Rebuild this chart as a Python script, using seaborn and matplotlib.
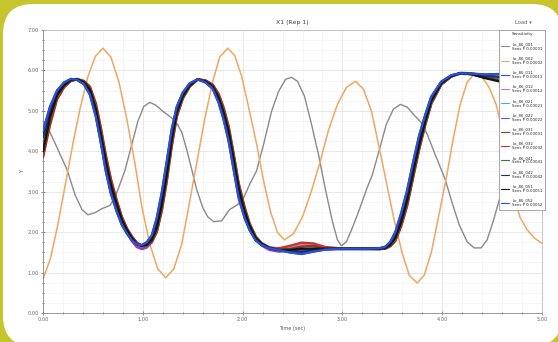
import matplotlib
matplotlib.use("Agg")
import matplotlib.pyplot as plt
from matplotlib.patches import FancyBboxPatch
from matplotlib.transforms import IdentityTransform
from matplotlib.ticker import AutoMinorLocator
import seaborn as sns

# tick labels
x_ticks = [0, 1, 2, 3, 4, 5]
x_tick_labels = ["0.00", "1.00", "2.00", "3.00", "4.00", "5.00"]
y_ticks = [0, 1, 2, 3, 4, 5, 6, 7]
y_tick_labels = ["0.00", "1.00", "2.00", "3.00", "4.00", "5.00", "6.00", "7.00"]

# orange trace
orange_x = [0.000, 0.075, 0.150, 0.225, 0.300, 0.375, 0.450, 0.525, 0.600,
            0.68, 0.76, 0.84, 0.92, 0.99, 1.07, 1.15, 1.23,
            1.31, 1.39, 1.46, 1.54, 1.62, 1.70, 1.77, 1.85,
            1.92, 1.99, 2.06, 2.14, 2.21, 2.28, 2.35, 2.42,
            2.51, 2.60, 2.69, 2.78, 2.86, 2.95, 3.04, 3.13,
            3.21, 3.29, 3.36, 3.44, 3.52, 3.60, 3.67, 3.75,
            3.82, 3.89, 3.96, 4.04, 4.11, 4.18, 4.25, 4.32,
            4.40, 4.47, 4.54, 4.60, 4.66, 4.72, 4.78, 4.85, 4.92, 5.00]
orange_y = [0.84, 1.35, 2.20, 3.20, 4.20, 5.10, 5.85, 6.35, 6.55,
            6.33, 5.72, 4.79, 3.71, 2.63, 1.70, 1.09, 0.87,
            1.09, 1.70, 2.63, 3.71, 4.79, 5.72, 6.33, 6.55,
            6.37, 5.86, 5.09, 4.18, 3.27, 2.50, 1.99, 1.81,
            1.96, 2.38, 3.02, 3.77, 4.52, 5.16, 5.58, 5.73,
            5.54, 5.00, 4.19, 3.24, 2.28, 1.47, 0.93, 0.74,
            0.94, 1.49, 2.34, 3.33, 4.31, 5.16, 5.71, 5.91,
            5.83, 5.58, 5.16, 4.54, 3.67, 2.85, 2.36, 2.06, 1.86, 1.72]

# grey trace
grey_x = [0.00, 0.07, 0.15, 0.24, 0.32, 0.39, 0.45, 0.52, 0.59, 0.67,
          0.72, 0.77, 0.82, 0.89, 0.95, 1.01, 1.07, 1.13, 1.20, 1.27,
          1.33, 1.39, 1.44, 1.49, 1.54, 1.60, 1.65, 1.71, 1.79, 1.87,
          1.95, 2.01, 2.07, 2.14, 2.21, 2.29, 2.36, 2.43, 2.49, 2.55,
          2.62, 2.69, 2.76, 2.83, 2.90, 2.95, 2.99, 3.04, 3.10, 3.17,
          3.24, 3.30, 3.37, 3.44, 3.51, 3.58, 3.65, 3.72, 3.79, 3.85,
          3.91, 3.97, 4.03, 4.09, 4.17, 4.25, 4.32, 4.39, 4.45, 4.51,
          4.56, 4.67, 4.77, 4.87, 5.00]
grey_y = [4.74, 4.47, 4.04, 3.55, 2.93, 2.56, 2.43, 2.48, 2.58, 2.66,
          2.85, 3.18, 3.52, 4.17, 4.74, 5.11, 5.21, 5.14, 4.99, 4.86,
          4.74, 4.47, 4.04, 3.55, 3.05, 2.61, 2.38, 2.26, 2.28, 2.56,
          2.68, 2.85, 3.18, 3.52, 4.17, 4.99, 5.48, 5.78, 5.83, 5.73,
          5.36, 4.67, 3.92, 3.05, 2.26, 1.81, 1.66, 1.76, 2.11, 2.56,
          3.05, 3.42, 4.04, 4.67, 5.04, 5.16, 5.09, 4.89, 4.71, 4.42,
          4.04, 3.67, 3.30, 2.80, 2.18, 1.76, 1.61, 1.61, 1.81, 2.26,
          2.70, 3.55, 4.29, 4.84, 5.16]

# the dense bundle of runs
bundle_x = [0.00, 0.07, 0.14, 0.21, 0.28, 0.34, 0.41, 0.47, 0.53, 0.58,
            0.63, 0.68, 0.74, 0.79, 0.84, 0.89, 0.94, 0.99, 1.04, 1.09,
            1.14, 1.19, 1.24, 1.29, 1.34, 1.40, 1.47, 1.55, 1.63, 1.70,
            1.76, 1.81, 1.86, 1.91, 1.96, 2.02, 2.07, 2.13, 2.19, 2.27,
            2.36, 2.47, 2.59, 2.71, 2.83, 2.97, 3.12, 3.27, 3.37, 3.43,
            3.48, 3.53, 3.59, 3.65, 3.71, 3.77, 3.83, 3.89, 3.99, 4.09,
            4.18, 4.29, 4.43, 4.57, 4.72, 4.87, 5.00]

black_y = [4.00, 4.84, 5.38, 5.63, 5.76, 5.78, 5.71, 5.53, 5.04, 4.42,
           3.75, 3.18, 2.68, 2.31, 2.06, 1.86, 1.71, 1.66, 1.69, 1.81,
           2.11, 2.68, 3.42, 4.29, 4.96, 5.36, 5.63, 5.78, 5.73, 5.61,
           5.33, 4.96, 4.49, 3.80, 3.10, 2.51, 2.16, 1.86, 1.71, 1.61,
           1.56, 1.56, 1.59, 1.59, 1.59, 1.59, 1.59, 1.59, 1.59, 1.61,
           1.69, 1.86, 2.26, 2.80, 3.50, 4.17, 4.74, 5.24, 5.68, 5.86,
           5.93, 5.91, 5.81, 5.73, 5.73, 5.78, 5.81]
blue_y = [4.50, 5.10, 5.50, 5.70, 5.79, 5.77, 5.66, 5.40, 4.85, 4.20,
          3.50, 2.95, 2.50, 2.18, 1.97, 1.80, 1.70, 1.68, 1.75, 1.92,
          2.35, 2.98, 3.75, 4.55, 5.10, 5.45, 5.68, 5.78, 5.70, 5.55,
          5.20, 4.78, 4.25, 3.55, 2.85, 2.35, 2.05, 1.80, 1.68, 1.60,
          1.56, 1.50, 1.46, 1.52, 1.57, 1.59, 1.59, 1.59, 1.60, 1.64,
          1.76, 2.00, 2.48, 3.05, 3.75, 4.40, 4.90, 5.35, 5.72, 5.88,
          5.93, 5.92, 5.90, 5.91, 5.93, 5.92, 5.90]
lightblue_y = [4.20, 4.95, 5.44, 5.66, 5.78, 5.78, 5.69, 5.47, 4.95, 4.30,
               3.62, 3.06, 2.58, 2.24, 2.01, 1.83, 1.70, 1.66, 1.72, 1.86,
               2.22, 2.82, 3.58, 4.42, 5.03, 5.40, 5.65, 5.78, 5.72, 5.58,
               5.27, 4.87, 4.37, 3.67, 2.97, 2.43, 2.10, 1.83, 1.69, 1.60,
               1.57, 1.55, 1.56, 1.60, 1.62, 1.60, 1.59, 1.59, 1.59, 1.62,
               1.72, 1.92, 2.36, 2.92, 3.62, 4.28, 4.82, 5.30, 5.70, 5.87,
               5.92, 5.90, 5.84, 5.78, 5.79, 5.82, 5.84]
brown_y = [3.85, 4.65, 5.28, 5.58, 5.74, 5.79, 5.74, 5.60, 5.18, 4.58,
           3.90, 3.32, 2.78, 2.38, 2.10, 1.90, 1.74, 1.67, 1.67, 1.76,
           2.00, 2.52, 3.25, 4.12, 4.85, 5.30, 5.60, 5.78, 5.75, 5.65,
           5.42, 5.08, 4.62, 3.95, 3.22, 2.62, 2.22, 1.90, 1.73, 1.62,
           1.57, 1.58, 1.64, 1.66, 1.61, 1.59, 1.59, 1.59, 1.58, 1.59,
           1.65, 1.78, 2.15, 2.66, 3.36, 4.05, 4.65, 5.17, 5.65, 5.85,
           5.94, 5.93, 5.86, 5.76, 5.72, 5.74, 5.77]
purple_y = [4.10, 4.90, 5.40, 5.62, 5.75, 5.77, 5.70, 5.50, 5.00, 4.36,
            3.68, 3.12, 2.62, 2.25, 1.99, 1.78, 1.63, 1.58, 1.62, 1.76,
            2.05, 2.62, 3.36, 4.24, 4.92, 5.34, 5.62, 5.77, 5.74, 5.62,
            5.35, 4.98, 4.52, 3.84, 3.14, 2.54, 2.16, 1.84, 1.67, 1.56,
            1.52, 1.53, 1.56, 1.58, 1.59, 1.58, 1.58, 1.58, 1.58, 1.60,
            1.67, 1.83, 2.22, 2.75, 3.45, 4.12, 4.70, 5.20, 5.66, 5.85,
            5.92, 5.92, 5.83, 5.76, 5.75, 5.79, 5.82]
red_y = [3.95, 4.78, 5.34, 5.60, 5.75, 5.78, 5.72, 5.56, 5.10, 4.50,
         3.82, 3.25, 2.73, 2.35, 2.08, 1.88, 1.73, 1.67, 1.68, 1.78,
         2.05, 2.60, 3.33, 4.20, 4.90, 5.33, 5.61, 5.78, 5.74, 5.63,
         5.38, 5.02, 4.56, 3.88, 3.16, 2.56, 2.19, 1.88, 1.72, 1.62,
         1.60, 1.66, 1.74, 1.72, 1.63, 1.60, 1.60, 1.59, 1.59, 1.60,
         1.67, 1.82, 2.20, 2.72, 3.42, 4.10, 4.68, 5.19, 5.66, 5.85,
         5.93, 5.92, 5.84, 5.76, 5.74, 5.77, 5.80]
green_y = [4.05, 4.88, 5.39, 5.63, 5.76, 5.78, 5.71, 5.52, 5.02, 4.40,
           3.72, 3.15, 2.66, 2.29, 2.04, 1.84, 1.70, 1.65, 1.68, 1.80,
           2.09, 2.66, 3.40, 4.27, 4.95, 5.36, 5.63, 5.78, 5.73, 5.61,
           5.34, 4.97, 4.50, 3.82, 3.12, 2.52, 2.17, 1.87, 1.71, 1.61,
           1.57, 1.57, 1.58, 1.58, 1.58, 1.58, 1.58, 1.58, 1.58, 1.60,
           1.68, 1.85, 2.24, 2.78, 3.48, 4.15, 4.72, 5.22, 5.67, 5.86,
           5.93, 5.91, 5.82, 5.75, 5.74, 5.78, 5.81]
navy_y = [4.35, 5.02, 5.46, 5.68, 5.78, 5.77, 5.67, 5.44, 4.90, 4.25,
          3.56, 3.00, 2.54, 2.20, 1.98, 1.81, 1.70, 1.67, 1.73, 1.88,
          2.28, 2.90, 3.66, 4.48, 5.06, 5.42, 5.66, 5.78, 5.71, 5.56,
          5.24, 4.83, 4.31, 3.61, 2.91, 2.39, 2.07, 1.81, 1.68, 1.60,
          1.56, 1.53, 1.51, 1.55, 1.58, 1.59, 1.59, 1.59, 1.60, 1.63,
          1.74, 1.96, 2.42, 2.98, 3.68, 4.34, 4.86, 5.32, 5.71, 5.87,
          5.93, 5.91, 5.87, 5.84, 5.86, 5.86, 5.86]
pink_y = [3.90, 4.72, 5.31, 5.59, 5.75, 5.79, 5.73, 5.58, 5.14, 4.54,
          3.86, 3.28, 2.75, 2.36, 2.07, 1.85, 1.68, 1.61, 1.63, 1.74,
          2.01, 2.55, 3.28, 4.15, 4.87, 5.31, 5.60, 5.78, 5.75, 5.64,
          5.40, 5.05, 4.59, 3.91, 3.19, 2.59, 2.20, 1.87, 1.70, 1.60,
          1.57, 1.62, 1.68, 1.67, 1.61, 1.59, 1.59, 1.59, 1.59, 1.60,
          1.66, 1.80, 2.18, 2.70, 3.40, 4.08, 4.67, 5.18, 5.65, 5.85,
          5.93, 5.93, 5.85, 5.75, 5.73, 5.76, 5.79]

legend_labels = ["Lo_86_001\nSens P 0.00001", "Lo_86_002\nSens P 0.00002",
                 "Lo_86_011\nSens P 0.00011", "Lo_86_012\nSens P 0.00012",
                 "Lo_86_021\nSens P 0.00021", "Lo_86_022\nSens P 0.00022",
                 "Lo_86_031\nSens P 0.00031", "Lo_86_032\nSens P 0.00032",
                 "Lo_86_041\nSens P 0.00041", "Lo_86_042\nSens P 0.00042",
                 "Lo_86_051\nSens P 0.00051", "Lo_86_052\nSens P 0.00052"]

sns.set_theme(style="whitegrid")
plt.rcParams['font.family'] = ['DejaVu Sans']

fig = plt.figure(figsize=(5.58, 3.42), dpi=100)
fig.patch.set_facecolor('#c6c52d')
# white rounded card on the olive background
card = FancyBboxPatch((3, -4), 559, 342, boxstyle="round,pad=0,rounding_size=30",
                      transform=IdentityTransform(), facecolor='white',
                      edgecolor='none', zorder=-10)
fig.add_artist(card)

ax = fig.add_axes([0.0771, 0.0848, 0.8943, 0.8275])
ax.set_facecolor('white')

# the two outlying runs
sns.lineplot(x=grey_x, y=grey_y, ax=ax, color='#8a8a8a', lw=1.0,
             estimator=None, label=legend_labels[0], zorder=2)
sns.lineplot(x=orange_x, y=orange_y, ax=ax, color='#f2a65e', lw=1.1,
             estimator=None, label=legend_labels[1], zorder=2)

bundle = [(blue_y, '#2b4fd6'), (pink_y, '#d672b8'), (lightblue_y, '#45a6e6'),
          (purple_y, '#8a3fb4'), (brown_y, '#8b3a1a'), (red_y, '#c93232'),
          (green_y, '#2f7d3c'), (navy_y, '#1c2a6e'), (black_y, '#151515')]
for i, (ys, col) in enumerate(bundle):
    sns.lineplot(x=bundle_x, y=ys, ax=ax, color=col, lw=1.7,
                 estimator=None, label=legend_labels[i + 2], zorder=3)
# blue drawn again on top, it dominates the bundle
sns.lineplot(x=bundle_x, y=blue_y, ax=ax, color='#2b4fd6', lw=1.6,
             estimator=None, label=legend_labels[11], zorder=4)

ax.set_xlim(0, 5)
ax.set_ylim(0, 7)
ax.set_xticks(x_ticks)
ax.set_xticklabels(x_tick_labels)
ax.set_yticks(y_ticks)
ax.set_yticklabels(y_tick_labels)
ax.xaxis.set_minor_locator(AutoMinorLocator(5))
ax.yaxis.set_minor_locator(AutoMinorLocator(4))
ax.grid(which='major', color='#e4e4e4', lw=0.6)
ax.grid(which='minor', color='#f3f3f3', lw=0.5)
ax.tick_params(which='both', labelsize=3.6, colors='#666666', direction='inout',
               length=3, width=0.5, pad=1.5, left=True, bottom=True)
ax.tick_params(which='minor', length=2)
for s in ax.spines.values():
    s.set_color('#bbbbbb')
    s.set_linewidth(0.6)
ax.spines['left'].set_color('#888888')
ax.spines['bottom'].set_color('#888888')

ax.set_title("X1 (Rep 1)", fontsize=4.5, color='#444444', pad=4)
ax.set_xlabel("Time (sec)", fontsize=3.6, color='#555555', labelpad=3)
ax.set_ylabel("Y", fontsize=3.6, color='#555555', labelpad=2)
fig.text(515 / 558, 1 - 22 / 342, "Load \u25be", fontsize=3.8, color='#666666',
         ha='left', va='center')

leg = ax.legend(loc='upper right', bbox_to_anchor=(1.006, 1.0), fontsize=2.8,
                title="Sensitivity", title_fontsize=3.0, frameon=True,
                fancybox=False, edgecolor='#999999', framealpha=1,
                handlelength=2.0, labelspacing=1.45, borderpad=0.6,
                borderaxespad=0)
leg.get_frame().set_linewidth(0.6)
for line in leg.get_lines():
    line.set_linewidth(0.8)

fig.savefig("out.png", dpi=100, facecolor=fig.get_facecolor())
